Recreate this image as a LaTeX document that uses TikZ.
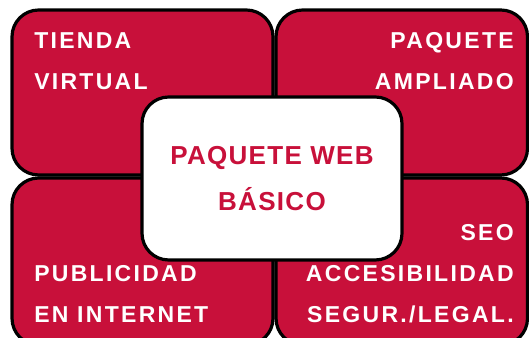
\documentclass[tikz,border=0pt]{standalone}
\usepackage{fontspec}
\usepackage{tikz}
\newfontfamily\cornerfont[LetterSpace=10]{Liberation Sans}
\newfontfamily\centerfont[LetterSpace=5]{Liberation Sans}
\definecolor{boxred}{RGB}{200,16,58}

\begin{document}
\begin{tikzpicture}[x=0.75pt,y=0.75pt,yscale=-1,xscale=1,
  redbox/.style={draw=black,line width=2.4pt,fill=boxred,rounded corners=20pt},
  whitebox/.style={draw=black,line width=2.4pt,fill=white,rounded corners=20pt},
  cornertext/.style={inner sep=0pt,text=white,font=\cornerfont\bfseries\fontsize{17.25}{20}\selectfont},
  centertext/.style={inner sep=0pt,text=boxred,font=\centerfont\bfseries\fontsize{19.5}{23}\selectfont}]
\useasboundingbox (0,0) rectangle (529,338);

%Shape: Rectangle [tienda]
\draw [redbox] (12,10) rectangle (273,175);
%Shape: Rectangle [ampliado]
\draw [redbox] (276,10) rectangle (527.5,175);
%Shape: Rectangle [publicidad]
\draw [redbox] (12,178) rectangle (273,345);
%Shape: Rectangle [seo]
\draw [redbox] (276,178) rectangle (527.5,345);
%Shape: Rectangle [basico]
\draw [whitebox] (142,97) rectangle (402,260);

% Text Node
\node [cornertext, anchor=base west] (tiendaA) at (34,49) {TIENDA};
\node [cornertext, anchor=base west] (tiendaB) at (34,90) {VIRTUAL};
% Text Node
\node [cornertext, anchor=base east] (paqA) at (514,49) {PAQUETE};
\node [cornertext, anchor=base east] (paqB) at (514,90) {AMPLIADO};
% Text Node
\node [cornertext, anchor=base west] (pubA) at (34,282) {PUBLICIDAD};
\node [cornertext, anchor=base west] (pubB) at (34,323) {EN INTERNET};
% Text Node
\node [cornertext, anchor=base east] (seoA) at (514,241) {SEO};
\node [cornertext, anchor=base east] (seoB) at (514,282) {ACCESIBILIDAD};
\node [cornertext, anchor=base east] (seoC) at (514,323) {SEGUR./LEGAL.};
% Text Node
\node [centertext, anchor=base] (webA) at (272,165) {PAQUETE WEB};
\node [centertext, anchor=base] (webB) at (272,211) {BÁSICO};

\end{tikzpicture}
\end{document}
